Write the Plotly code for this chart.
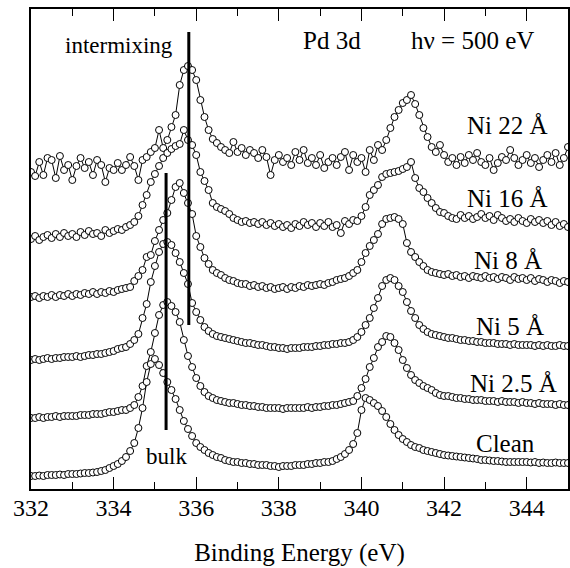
import numpy as np
import plotly.graph_objects as go

# Binding energy grid (eV), 0.1 eV steps 332.0 .. 345.0
energy = [round(332.0 + 0.1 * i, 1) for i in range(131)]

# Stacked, normalised Pd 3d intensities (arb. units, vertical offset included)
clean = [13,13,13.5,13,14,14,14,14.5,14,15,
         15,15,15.5,16,16,16.5,17,18,19,21,
         23,25,28,32,38,46,61,81,107,125,
         130,124,116,107,99,90,79,68,60,53,
         46,42,39,36,34,32,31,29,28,27,
         27,26,26,25,25,24,24,24,23,23,
         22,23,23,23,24,24,24,25,25,26,
         26,27,27,28,30,32,35,39,45,56,
         79,91,89,86,83,78,72,65,59,54,
         50,47,44,42,41,39,38,37,36,35,
         34,33.5,33,32.5,32,31.5,31,30.5,30,29,
         29,28.5,28,28,27.5,27,27,27,27,27,
         27,26.5,27,26,26.5,26,26,26.5,26,26,26]

ni_2p5 = [71,71,72,71,72,72,73,72,73,73,
          73,73,74,74,74,75,75,75,76,77,
          77,78,79,79,81,84,92,103,123,137,
          156,174,184,187,183,177,167,149,133,122,
          111,103,97,93,91,89,88,87,86,86,
          85,84,84,83,83,82,82,81,81,81,
          81,80,81,81,81,81,81,82,81,82,
          82,83,83,84,84,85,86,87,88,93,
          101,110,122,131,142,147,153,152,146,139,
          129,121,114,109,106,103,101,99,96,94,
          93,93,92,91,91,90,90,89,89,89,
          88,88,88,87,88,87,87,87,86,87,
          86,86,85,86,85,85,85,84,85,84,84]

ni_5 = [129,130,129,130,131,130,131,131,132,132,
        132,133,132,133,134,134,135,135,136,137,
        138,140,141,142,145,149,155,171,185,207,
        223,237,245,247,244,236,227,216,205,186,
        177,169,162,158,155,153,152,151,150,149,
        148,147,146,146,145,144,144,143,142,142,
        141,141,140,141,141,141,142,142,142,143,
        143,144,144,145,145,146,146,147,149,152,
        157,164,171,181,191,203,209,211,209,203,
        197,187,178,171,164,160,157,155,154,153,
        152,151,151,150,149,149,148,148,147,147,
        146,146,146,145,145,145,144,145,144,144,
        144,144,143,144,143,144,143,143,144,143,143]

ni_8 = [192,193,191,193,192,194,192,194,193,195,
        193,195,194,196,195,197,195,197,196,198,
        197,199,200,201,202,208,213,219,232,234,
        248,259,269,276,289,302,306,296,286,275,
        253,242,231,225,219,216,214,211,209,208,
        206,205,205,203,204,202,203,201,202,200,
        201,202,200,202,201,203,202,204,203,204,
        205,204,206,207,209,210,211,213,216,219,
        227,236,243,249,255,265,270,271,272,270,
        265,246,237,232,227,223,219,217,216,215,
        214,215,213,214,212,213,211,213,212,211,
        213,211,212,210,212,211,209,212,210,211,
        209,211,208,210,209,207,209,208,206,208,207]

ni_16 = [250,253,249,252,254,251,255,252,256,253,
         255,252,257,254,258,255,256,253,259,256,
         258,260,259,262,264,267,273,284,294,307,
         315,323,331,336,340,343,345,359,349,344,
         334,317,308,299,286,282,280,278,275,271,
         269,267,268,266,267,265,267,264,266,263,
         265,262,264,261,265,263,267,264,266,262,
         266,263,267,262,264,256,268,265,269,268,
         273,282,294,299,304,312,315,316,317,318,
         320,322,327,311,301,297,291,286,281,277,
         276,273,271,270,274,271,273,270,272,275,
         271,273,269,274,271,268,270,267,271,268,
         266,270,267,269,266,268,264,267,263,265,262]

ni_22 = [317,313,327,314,331,329,311,333,319,324,
         309,323,331,321,327,314,329,324,307,321,
         319,326,319,324,332,323,309,329,332,337,
         341,359,341,349,362,374,404,419,423,419,
         409,389,372,359,350,346,342,339,336,347,
         337,341,334,339,336,331,339,332,314,329,
         334,327,331,324,337,329,339,326,331,324,
         334,321,327,331,324,332,337,319,334,327,
         331,317,339,329,344,339,349,361,372,379,
         386,389,394,385,374,361,352,342,337,344,
         334,327,331,324,332,326,334,329,336,327,
         324,331,319,326,332,329,339,331,324,329,
         334,326,331,322,329,334,327,336,324,331,342]

series = [("Ni 22 Å", ni_22), ("Ni 16 Å", ni_16), ("Ni 8 Å", ni_8),
          ("Ni 5 Å", ni_5), ("Ni 2.5 Å", ni_2p5), ("Clean", clean)]

# label anchor positions (eV, intensity)
label_x = [343.53, 343.53, 343.55, 343.6, 343.67, 343.48]
label_y = [364, 291, 229, 163, 106, 46]

# reference lines: (energy, y_bottom, y_top)
intermix_line = (335.82, 164, 457)
bulk_line = (335.27, 59, 316)

x_ticks = [332, 334, 336, 338, 340, 342, 344]

FONT = "Liberation Serif"

fig = go.Figure()
for name, vals in series:
    fig.add_trace(go.Scatter(
        x=energy, y=vals, mode="lines+markers", name=name,
        line=dict(color="black", width=1),
        marker=dict(symbol="circle", size=7, color="white",
                    line=dict(color="black", width=1)),
        showlegend=False, hoverinfo="skip"))

for (e, y0, y1) in [intermix_line, bulk_line]:
    fig.add_shape(type="line", x0=e, x1=e, y0=y0, y1=y1, xref="x", yref="y",
                  line=dict(color="black", width=3))

annots = []
for (name, _), lx, ly in zip(series, label_x, label_y):
    annots.append(dict(x=lx, y=ly, text=name, showarrow=False,
                       xanchor="center", yanchor="middle",
                       font=dict(family=FONT, size=25, color="black")))
annots += [
    dict(x=339.29, y=449, text="Pd 3d", showarrow=False, xanchor="center",
         yanchor="middle", font=dict(family=FONT, size=25, color="black")),
    dict(x=342.68, y=449, text="hν = 500 eV", showarrow=False, xanchor="center",
         yanchor="middle", font=dict(family=FONT, size=25, color="black")),
    dict(x=334.13, y=444, text="intermixing", showarrow=False, xanchor="center",
         yanchor="middle", font=dict(family=FONT, size=23, color="black")),
    dict(x=335.27, y=33, text="bulk", showarrow=False, xanchor="center",
         yanchor="middle", font=dict(family=FONT, size=23, color="black")),
]

fig.update_layout(
    width=570, height=568,
    margin=dict(l=31, r=2, t=9, b=79, autoexpand=False),
    paper_bgcolor="white", plot_bgcolor="white",
    annotations=annots,
    xaxis=dict(range=[332, 345], tickvals=x_ticks, ticktext=[str(t) for t in x_ticks],
               ticks="inside", ticklen=12, tickwidth=1, tickcolor="black",
               minor=dict(dtick=1, ticks="inside", ticklen=7, tickcolor="black", tickwidth=1),
               showline=True, linecolor="black", linewidth=1.5, mirror="allticks",
               showgrid=False, zeroline=False, automargin=False,
               ticklabelstandoff=-4,
               tickfont=dict(family=FONT, size=24, color="black"),
               title=dict(text="Binding Energy (eV)", standoff=24,
                          font=dict(family=FONT, size=25, color="black"))),
    yaxis=dict(range=[0, 480], showticklabels=False, ticks="", automargin=False,
               showline=True, linecolor="black", linewidth=1.5, mirror=True,
               showgrid=False, zeroline=False),
)

fig.write_html("out.html", config={"displayModeBar": False},
               post_script="document.body.style.margin='0';document.body.style.overflow='hidden';")
